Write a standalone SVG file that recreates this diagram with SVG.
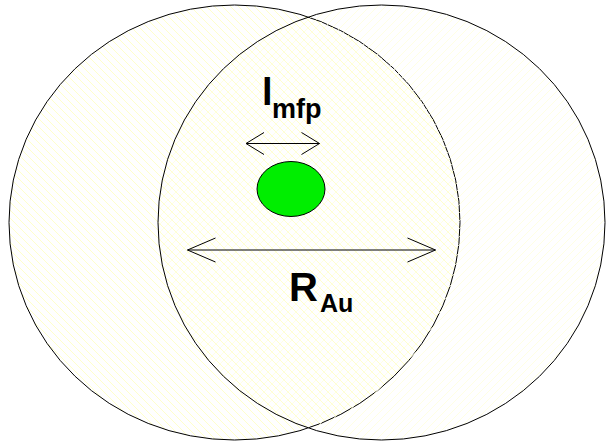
<svg xmlns="http://www.w3.org/2000/svg" width="606" height="446" viewBox="0 0 606 446">
<defs>
<pattern id="hatchL" patternUnits="userSpaceOnUse" width="8" height="8">
<path d="M-2,-2 L10,10 M-2,6 L2,10 M6,-2 L10,2" stroke="#ffffb4" stroke-width="0.7" fill="none"/>
</pattern>
<pattern id="hatchR" patternUnits="userSpaceOnUse" width="8" height="8">
<path d="M-2,10 L10,-2 M-2,2 L2,-2 M6,10 L10,6" stroke="#ffffd8" stroke-width="0.7" fill="none"/>
</pattern>
<marker id="open" viewBox="0 0 30 26" refX="29" refY="13" markerWidth="30" markerHeight="26" orient="auto-start-reverse" markerUnits="userSpaceOnUse">
<path d="M1,1 L29,13 L1,25" fill="none" stroke="#000" stroke-width="1"/>
</marker>
<marker id="openS" viewBox="0 0 20 24" refX="19" refY="12" markerWidth="20" markerHeight="24" orient="auto-start-reverse" markerUnits="userSpaceOnUse">
<path d="M1,1 L19,12 L1,23" fill="none" stroke="#000" stroke-width="1"/>
</marker>
</defs>
<style>
.ring{stroke:#000;stroke-width:1}
.lbl{font-family:"Liberation Sans",Arial,sans-serif;font-weight:bold;fill:#000}
.conn{stroke:#000;stroke-width:1;fill:none}
</style>
<rect width="606" height="446" fill="#fff"/>
<g id="left-circle">
<ellipse class="ring" cx="234.5" cy="222.5" rx="225.5" ry="217.5" fill="url(#hatchL)"/>
</g>
<g id="right-circle">
<ellipse class="ring" cx="381.5" cy="222.5" rx="223.5" ry="217.5" fill="url(#hatchR)"/>
</g>
<g id="particle">
<ellipse cx="291" cy="189" rx="34" ry="27.5" fill="#00ee00" stroke="#000" stroke-width="1"/>
</g>
<g id="connectors">
<line class="conn" x1="246" y1="143.5" x2="319.5" y2="143.5" marker-start="url(#openS)" marker-end="url(#openS)"/>
<line class="conn" x1="187.5" y1="250" x2="435.5" y2="250" marker-start="url(#open)" marker-end="url(#open)"/>
</g>
<g id="label-lmfp">
<text class="lbl" x="262" y="105" font-size="38">l</text>
<text class="lbl" x="272" y="118" font-size="27">mfp</text>
</g>
<g id="label-RAu">
<text class="lbl" x="289" y="301" font-size="40">R</text>
<text class="lbl" x="320" y="312" font-size="25">Au</text>
</g>
</svg>
